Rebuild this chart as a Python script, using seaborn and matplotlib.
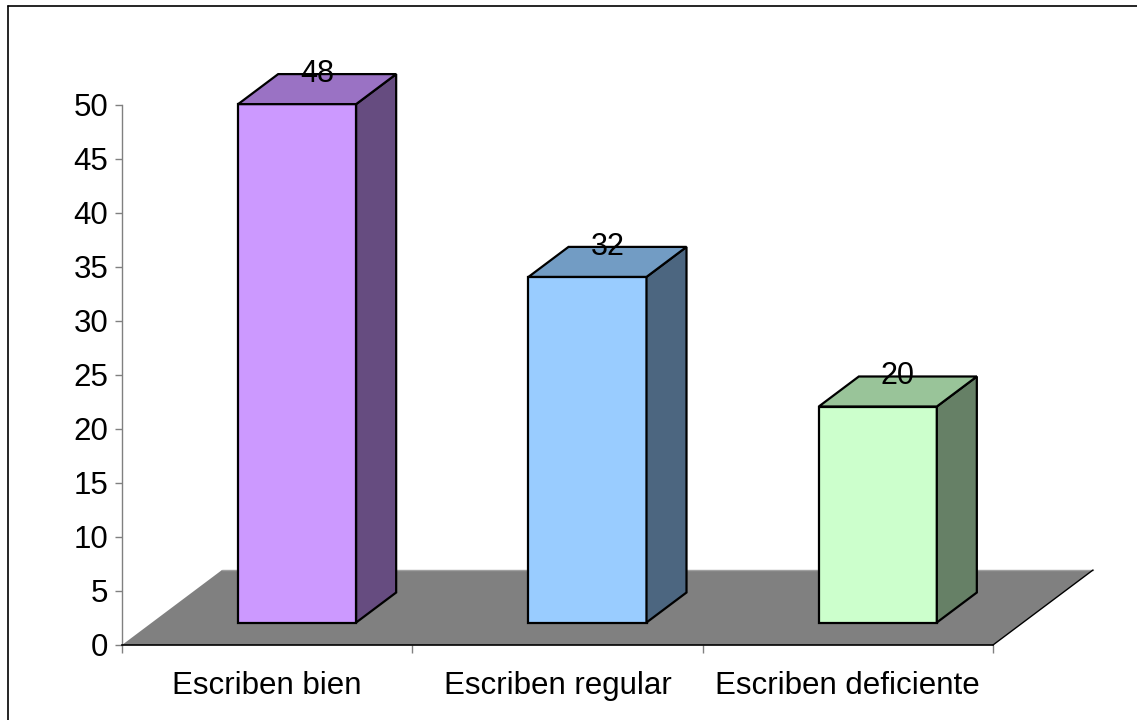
import numpy as np
import pandas as pd
import seaborn as sns
import matplotlib.pyplot as plt
from matplotlib.patches import Polygon
from matplotlib.lines import Line2D

# Data
categories = ["Escriben bien", "Escriben regular", "Escriben deficiente"]
values = [48, 32, 20]
front_colors = ["#CC99FF", "#99CCFF", "#CCFFCC"]
side_colors = ["#664C80", "#4C6680", "#668066"]
top_colors = ["#9A72C4", "#729CC4", "#99C499"]
y_ticks = list(range(0, 55, 5))

df = pd.DataFrame({"cat": categories, "val": values})

sns.set_style("white")
plt.rcParams["font.family"] = ["Liberation Sans", "DejaVu Sans"]
plt.rcParams["text.color"] = "black"
plt.rcParams["xtick.labelcolor"] = "black"
plt.rcParams["ytick.labelcolor"] = "black"

W, H = 1137, 720
fig = plt.figure(figsize=(W / 100, H / 100), dpi=100)
ax = fig.add_axes([122 / W, (H - 645) / H, 871 / W, 540 / H])

bar_w = 118 / 290.33
sns.barplot(data=df, x="cat", y="val", hue="cat", palette=front_colors,
            saturation=1, width=bar_w, legend=False, ax=ax, edgecolor="black",
            linewidth=1.6, zorder=3)
ax.set_xlim(-0.5, 2.5)
ax.set_ylim(0, 50)

# depth of the floor in data units
px_x = 3 / 871.0
px_y = 50 / 540.0
depth_x, depth_y = 100 * px_x, 75 * px_y
f0, f1 = 0.3, 0.7  # bar front/back as a fraction of depth

# floor
floor = Polygon([(-0.5, 0), (2.5, 0), (2.5 + depth_x, depth_y), (-0.5 + depth_x, depth_y)],
                closed=True, facecolor="#808080", edgecolor="none", zorder=1, clip_on=False)
ax.add_patch(floor)
ax.add_line(Line2D([2.5, 2.5 + depth_x], [0, depth_y], color="black", lw=1.0,
                   zorder=2, clip_on=False))
ax.add_line(Line2D([-0.5 + depth_x, 2.5 + depth_x], [depth_y, depth_y], color="#A0A0A0",
                   lw=1.0, zorder=1.5, clip_on=False))

dx = (f1 - f0) * depth_x
dy = (f1 - f0) * depth_y
for i, p in enumerate(ax.patches[:len(values)]):
    p.set_x(p.get_x() + f0 * depth_x)
    p.set_y(f0 * depth_y)
    p.set_clip_on(False)
    x0, x1 = p.get_x(), p.get_x() + p.get_width()
    y0, y1 = p.get_y(), p.get_y() + p.get_height()
    side = Polygon([(x1, y0), (x1 + dx, y0 + dy), (x1 + dx, y1 + dy), (x1, y1)],
                   closed=True, facecolor=side_colors[i], edgecolor="black", lw=1.6,
                   zorder=3, clip_on=False)
    top = Polygon([(x0, y1), (x1, y1), (x1 + dx, y1 + dy), (x0 + dx, y1 + dy)],
                  closed=True, facecolor=top_colors[i], edgecolor="black", lw=1.6,
                  zorder=3, clip_on=False)
    ax.add_patch(side)
    ax.add_patch(top)
    ax.text((x0 + x1) / 2 + dx / 2, y1 + dy / 2, str(values[i]),
            ha="center", va="bottom", fontsize=22, color="black", zorder=5,
            clip_on=False)

# axes styling
for s in ["top", "right"]:
    ax.spines[s].set_visible(False)
ax.spines["left"].set_color("#808080")
ax.spines["left"].set_linewidth(1.0)
ax.spines["bottom"].set_color("black")
ax.spines["bottom"].set_linewidth(1.2)
ax.spines["bottom"].set_zorder(2.5)

ax.set_yticks(y_ticks)
ax.set_yticklabels([str(t) for t in y_ticks])
ax.tick_params(axis="y", length=5, width=1, color="#808080", pad=5, labelsize=22.5,
               left=True, labelcolor="black")
ax.set_xticks([-0.5, 0.5, 1.5, 2.5], minor=True)
ax.set_xticks([0, 1, 2])
ax.set_xticklabels(categories)
ax.tick_params(axis="x", which="major", length=0, pad=19, labelsize=22.5,
               labelcolor="black")
ax.tick_params(axis="x", which="minor", length=6, width=1, color="#808080", bottom=True)
ax.set_xlabel("")
ax.set_ylabel("")
ax.patch.set_alpha(0)

# outer border (left and top)
fig.add_artist(Line2D([8 / W, 8 / W], [0, 1 - 6 / H], color="black", lw=1.2))
fig.add_artist(Line2D([8 / W, 1], [1 - 6 / H, 1 - 6 / H], color="black", lw=1.2))

fig.savefig("out.png", dpi=100)
